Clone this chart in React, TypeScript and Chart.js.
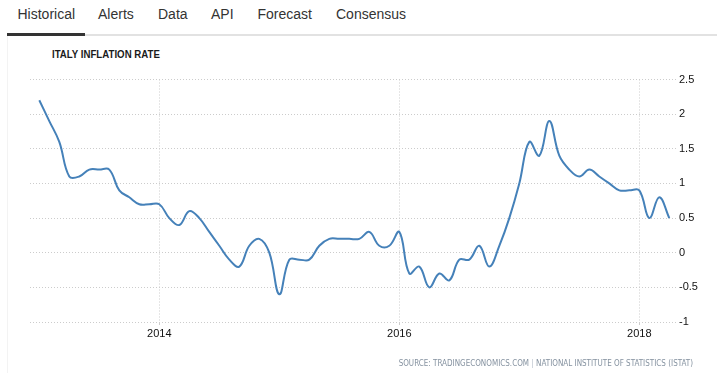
import React, { useEffect, useRef } from "react";
import { Chart, registerables } from "chart.js";

Chart.register(...registerables);

// Monthly, Jan 2013 .. Apr 2018
const months: string[] = [
  "2013-01","2013-02","2013-03","2013-04","2013-05","2013-06","2013-07","2013-08","2013-09","2013-10","2013-11","2013-12",
  "2014-01","2014-02","2014-03","2014-04","2014-05","2014-06","2014-07","2014-08","2014-09","2014-10","2014-11","2014-12",
  "2015-01","2015-02","2015-03","2015-04","2015-05","2015-06","2015-07","2015-08","2015-09","2015-10","2015-11","2015-12",
  "2016-01","2016-02","2016-03","2016-04","2016-05","2016-06","2016-07","2016-08","2016-09","2016-10","2016-11","2016-12",
  "2017-01","2017-02","2017-03","2017-04","2017-05","2017-06","2017-07","2017-08","2017-09","2017-10","2017-11","2017-12",
  "2018-01","2018-02","2018-03","2018-04",
];

const inflation: number[] = [
  2.2, 1.9, 1.6, 1.1, 1.1, 1.2, 1.2, 1.2, 0.9, 0.8, 0.7, 0.7,
  0.7, 0.5, 0.4, 0.6, 0.5, 0.3, 0.1, -0.1, -0.2, 0.1, 0.2, 0.0,
  -0.6, -0.1, -0.1, -0.1, 0.1, 0.2, 0.2, 0.2, 0.2, 0.3, 0.1, 0.1,
  0.3, -0.3, -0.2, -0.5, -0.3, -0.4, -0.1, -0.1, 0.1, -0.2, 0.1, 0.5,
  1.0, 1.6, 1.4, 1.9, 1.4, 1.2, 1.1, 1.2, 1.1, 1.0, 0.9, 0.9,
  0.9, 0.5, 0.8, 0.5,
];

const xTickLabels: string[] = ["2014", "2016", "2018"];
const yTickValues: number[] = [-1, -0.5, 0, 0.5, 1, 1.5, 2, 2.5];
const tabs: string[] = ["Historical", "Alerts", "Data", "API", "Forecast", "Consensus"];
const tabX: number[] = [17.5, 98, 158, 211, 257.5, 336];

const monthIndex = (label: string) => months.indexOf(label + "-01");

export default function App() {
  const ref = useRef<HTMLCanvasElement | null>(null);

  useEffect(() => {
    if (!ref.current) return;
    const xTickIdx = xTickLabels.map(monthIndex);
    const chart = new Chart(ref.current, {
      type: "line",
      data: {
        datasets: [
          {
            label: "Italy Inflation Rate",
            data: inflation.map((v, i) => ({ x: i, y: v })),
            borderColor: "#4581b9",
            borderWidth: 2,
            pointRadius: 0,
            tension: 0.4,
            fill: false,
          },
        ],
      },
      options: {
        animation: false,
        responsive: false,
        maintainAspectRatio: false,
        layout: { padding: { left: 30, top: 79.5, right: 0, bottom: 31 } },
        plugins: { legend: { display: false }, tooltip: { enabled: false }, title: { display: false } },
        scales: {
          x: {
            type: "linear",
            min: -0.93,
            max: 63.77,
            afterBuildTicks: (scale: any) => {
              scale.ticks = xTickIdx.map((v) => ({ value: v }));
            },
            afterFit: (scale: any) => {
              scale.height = 20;
            },
            grid: {
              color: "#cccccc",
              lineWidth: 1,
              drawTicks: true,
              tickLength: 3,
              tickColor: "#cccccc",
            },
            border: { display: false, dash: [1, 2] },
            ticks: {
              padding: 2,
              color: "#111111",
              font: { family: "Liberation Sans, Arial, sans-serif", size: 11 },
              maxRotation: 0,
              autoSkip: false,
              callback: (value: any) => {
                const i = xTickIdx.indexOf(Number(value));
                return i >= 0 ? xTickLabels[i] : "";
              },
            },
          },
          y: {
            position: "right",
            min: -1,
            max: 2.5,
            afterBuildTicks: (scale: any) => {
              scale.ticks = yTickValues.map((v) => ({ value: v }));
            },
            afterFit: (scale: any) => {
              scale.width = 40;
            },
            grid: { color: "#cccccc", lineWidth: 1, drawTicks: false },
            border: { display: false, dash: [1, 2] },
            ticks: {
              padding: 2,
              color: "#111111",
              font: { family: "Liberation Sans, Arial, sans-serif", size: 11 },
              callback: (value: any) => String(value),
            },
          },
        },
      },
    });
    return () => chart.destroy();
  }, []);

  return (
    <div
      style={{
        position: "absolute",
        left: 0,
        top: 0,
        width: 717,
        height: 373,
        background: "#ffffff",
        fontFamily: "'Liberation Sans', Arial, sans-serif",
        overflow: "hidden",
      }}
    >
      {tabs.map((t, i) => (
        <div
          key={t}
          style={{
            position: "absolute",
            left: tabX[i],
            top: 7,
            fontSize: 14,
            lineHeight: "14px",
            color: "#333333",
            whiteSpace: "nowrap",
          }}
        >
          {t}
        </div>
      ))}
      <div style={{ position: "absolute", left: 7, top: 34, width: 710, height: 2, background: "#e2e2e2" }} />
      <div style={{ position: "absolute", left: 7, top: 33, width: 78, height: 3, background: "#333333" }} />
      <div style={{ position: "absolute", left: 7, top: 36, width: 1, height: 337, background: "#f3f3f3" }} />
      <div
        style={{
          position: "absolute",
          left: 52.3,
          top: 49.3,
          fontFamily: "'Liberation Sans', Arial, sans-serif",
          fontWeight: "bold",
          fontSize: 11.5,
          lineHeight: "11.5px",
          color: "#1a1a1a",
          whiteSpace: "nowrap",
          transform: "scaleX(0.84)",
          transformOrigin: "0 0",
        }}
      >
        ITALY INFLATION RATE
      </div>
      <canvas
        ref={ref}
        width={717}
        height={373}
        style={{ position: "absolute", left: 0, top: 0, width: 717, height: 373 }}
      />
      <div
        style={{
          position: "absolute",
          right: 24,
          top: 359.5,
          fontFamily: "'Liberation Sans Narrow', 'DejaVu Sans Condensed', Arial, sans-serif",
          fontSize: 8,
          lineHeight: "8px",
          color: "#8592a0",
          whiteSpace: "nowrap",
        }}
      >
        SOURCE: TRADINGECONOMICS.COM <span style={{ color: "#b5bec8" }}>|</span> NATIONAL INSTITUTE OF STATISTICS (ISTAT)
      </div>
    </div>
  );
}
